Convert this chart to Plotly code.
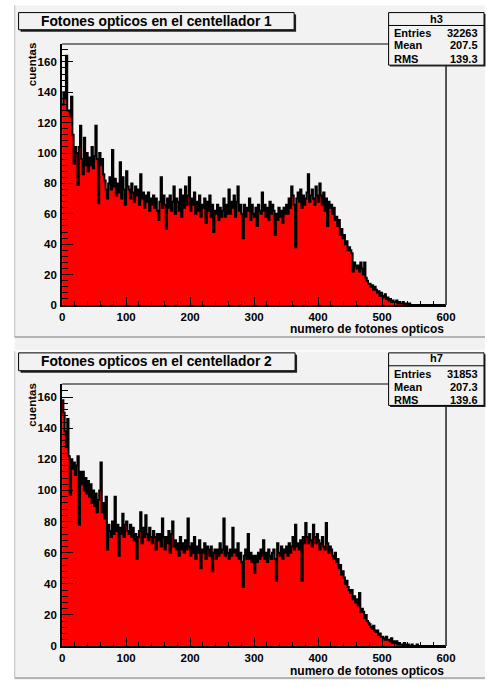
import plotly.graph_objects as go

# ---- histogram contents (2-unit bins from 0 to 600) ----
BIN_WIDTH = 2
X_MIN, X_MAX = 0, 600

h3_counts = [
    132, 140, 136, 164, 128,  128, 124, 137, 112, 93,
    104, 100, 79, 104, 118,   96, 86, 110, 92, 100,
    88, 97, 92, 104, 90,      98, 118, 96, 67, 100,
    92, 96, 86, 82, 76,       70, 80, 84, 76, 102,
    78, 83, 72, 80, 74,       94, 70, 84, 76, 66,
    88, 78, 76, 70, 80,       74, 68, 78, 72, 76,
    66, 86, 70, 74, 64,       72, 68, 74, 62, 70,
    66, 72, 64, 70, 62,       56, 68, 84, 64, 72,
    66, 50, 70, 64, 72,       62, 68, 78, 60, 70,
    68, 62, 76, 58, 72,       64, 78, 66, 72, 84,
    62, 70, 66, 74, 60,       68, 62, 72, 58, 66,
    64, 70, 54, 68, 62,       72, 58, 66, 48, 62,
    60, 66, 56, 64, 58,       62, 70, 58, 66, 60,
    76, 60, 68, 64, 72,       58, 68, 78, 62, 66,
    60, 44, 66, 58, 64,       62, 70, 56, 66, 60,
    58, 64, 52, 66, 62,       60, 74, 62, 66, 58,
    64, 56, 68, 60, 66,       62, 46, 60, 56, 64,
    58, 62, 54, 64, 60,       66, 60, 70, 64, 78,
    72, 66, 38, 70, 74,       68, 76, 64, 72, 66,
    70, 74, 86, 68, 72,       76, 70, 66, 78, 72,
    68, 80, 72, 66, 74,       62, 70, 52, 68, 64,
    66, 60, 64, 56, 58,       52, 56, 46, 50, 44,
    46, 40, 42, 36, 38,       36, 34, 22, 28, 26,
    24, 26, 22, 28, 24,       20, 28, 18, 16, 14,
    14, 12, 13, 10, 12,       10, 8, 9, 6, 8,
    6, 5, 7, 4, 5,            3, 4, 2, 3, 2,
    2, 3, 1, 2, 1,            1, 2, 0, 1, 1,
    0, 1, 0, 0, 0,
]

h7_counts = [
    158, 150, 138, 128, 146,  122, 97, 120, 114, 118,
    110, 116, 122, 78, 112,   104, 112, 100, 108, 98,
    106, 96, 104, 92, 100,    90, 98, 86, 94, 100,
    118, 86, 92, 82, 96,      62, 78, 74, 70, 80,
    72, 96, 74, 78, 58,       76, 72, 85, 70, 78,
    80, 74, 72, 78, 70,       76, 68, 72, 56, 70,
    74, 86, 66, 76, 70,       84, 72, 68, 76, 70,
    66, 74, 70, 62, 72,       68, 72, 64, 82, 70,
    62, 70, 66, 74, 60,       72, 80, 64, 68, 62,
    66, 58, 70, 62, 66,       60, 68, 62, 82, 64,
    58, 66, 60, 70, 56,       64, 60, 68, 50, 62,
    60, 66, 56, 64, 62,       58, 64, 48, 60, 62,
    56, 62, 58, 66, 60,       62, 82, 58, 64, 60,
    56, 62, 58, 76, 60,       62, 58, 66, 56, 60,
    54, 38, 58, 62, 56,       72, 56, 60, 54, 58,
    47, 58, 54, 60, 56,       62, 58, 68, 56, 60,
    54, 62, 58, 56, 60,       62, 56, 42, 66, 60,
    58, 64, 56, 62, 60,       64, 58, 66, 60, 64,
    70, 62, 78, 64, 66,       62, 68, 42, 70, 66,
    79, 70, 66, 72, 68,       64, 78, 70, 66, 72,
    68, 62, 66, 70, 64,       62, 79, 66, 60, 64,
    62, 58, 56, 60, 54,       56, 50, 52, 46, 48,
    44, 40, 42, 38, 36,       34, 36, 30, 32, 28,
    30, 26, 34, 22, 24,       22, 18, 20, 16, 15,
    14, 12, 11, 13, 10,       9, 10, 7, 8, 6,
    6, 5, 4, 6, 4,            4, 3, 5, 2, 3,
    2, 3, 1, 2, 1,            1, 0, 2, 1, 0,
    1, 0, 0, 1, 0,            0, 0, 1, 0, 0,
]

N_BINS = (X_MAX - X_MIN) // BIN_WIDTH
h3_counts = h3_counts + [0] * (N_BINS - len(h3_counts))
h7_counts = h7_counts + [0] * (N_BINS - len(h7_counts))

titles = ["Fotones opticos en el centellador 1", "Fotones opticos en el centellador 2"]
hist_names = ["h3", "h7"]
stat_labels = ["Entries", "Mean", "RMS"]
stat_values = [["32263", "207.5", "139.3"], ["31853", "207.3", "139.6"]]
y_maxima = [171.8, 168.5]
x_title = "numero de fotones opticos"
y_title = "cuentas"

# ---- canvas geometry (pixels) ----
W, H = 495, 686
FONT = "Liberation Sans, Arial, Helvetica, sans-serif"
PAD_BG = "#f2f2f2"


def px(x):
    return x / W


def py(y):
    return 1 - y / H


# per-pad layout: frame box, title box, stats box, text rows
pads = [
    dict(frame=(60.7, 44.3, 455, 307.7), pad=(12, 5, 495, 340),
         tbox=(16, 12.7, 299, 30), sbox=(396, 12.7, 494, 65.7), sep=25.7,
         rows=[19.2, 33.3, 45.9, 59.5], ylab=65.5, xlab=332.0),
    dict(frame=(60.7, 387.3, 455, 651.7), pad=(12, 354, 495, 684),
         tbox=(16, 356, 300, 374), sbox=(396, 356, 494, 409), sep=369,
         rows=[361.5, 377.0, 390.6, 404.0], ylab=409, xlab=676.5),
]

fig = go.Figure()

edges = [X_MIN + i * BIN_WIDTH for i in range(N_BINS + 1)]
for k, counts in enumerate([h3_counts, h7_counts]):
    suffix = "" if k == 0 else str(k + 1)
    fig.add_trace(go.Scatter(
        x=edges, y=counts + [counts[-1]],
        mode="lines", line=dict(shape="hv", color="black", width=2.0),
        fill="tozeroy", fillcolor="#ff0000",
        xaxis="x" + suffix, yaxis="y" + suffix,
        hoverinfo="skip", showlegend=False,
    ))

shapes = []
annotations = []

# canvas background between/around pads
shapes.append(dict(type="rect", xref="paper", yref="paper", layer="below",
                   x0=px(12), x1=px(495), y0=py(686), y1=py(5),
                   fillcolor=PAD_BG, line=dict(width=0)))

layout_axes = {}
for k, p in enumerate(pads):
    fx0, fy0, fx1, fy1 = p["frame"]
    suffix = "" if k == 0 else str(k + 1)
    xa = dict(
        domain=[px(fx0), px(fx1)], range=[X_MIN, X_MAX], anchor="y" + suffix,
        showgrid=False, zeroline=False, showline=True, linecolor="black", linewidth=2,
        ticks="inside", ticklen=8, tickwidth=1, tickcolor="black", dtick=100, tick0=0,
        minor=dict(ticks="inside", ticklen=4, dtick=20, tickcolor="black", showgrid=False),
        tickfont=dict(family=FONT, size=11.5, color="black", weight="bold"),
        fixedrange=True,
    )
    ya = dict(
        domain=[py(fy1), py(fy0)], range=[0, y_maxima[k]], anchor="x" + suffix,
        showgrid=False, zeroline=False, showline=True, linecolor="black", linewidth=2,
        ticks="inside", ticklen=11, tickwidth=1, tickcolor="black", dtick=20, tick0=0,
        minor=dict(ticks="inside", ticklen=6, dtick=4, tickcolor="black", showgrid=False),
        tickfont=dict(family=FONT, size=11.5, color="black", weight="bold"),
        ticklabelstandoff=1,
        fixedrange=True,
    )
    layout_axes["xaxis" + suffix] = xa
    layout_axes["yaxis" + suffix] = ya

    # frame: top and right edges
    shapes.append(dict(type="line", xref="paper", yref="paper",
                       x0=px(fx0), x1=px(fx1), y0=py(fy0), y1=py(fy0),
                       line=dict(color="#555555", width=1.5)))
    shapes.append(dict(type="line", xref="paper", yref="paper",
                       x0=px(fx1), x1=px(fx1), y0=py(fy0), y1=py(fy1),
                       line=dict(color="#444444", width=1.8)))

    # pad edges
    ax0, ay0, ax1, ay1 = p["pad"]
    shapes.append(dict(type="line", xref="paper", yref="paper", layer="below",
                       x0=px(ax0), x1=px(ax0), y0=py(ay0), y1=py(ay1),
                       line=dict(color="#c8c8c8", width=1.2)))
    shapes.append(dict(type="line", xref="paper", yref="paper", layer="below",
                       x0=px(ax0), x1=px(ax1), y0=py(ay1), y1=py(ay1),
                       line=dict(color="#a0a0a0", width=1.5)))
    shapes.append(dict(type="line", xref="paper", yref="paper", layer="below",
                       x0=px(ax0), x1=px(ax1), y0=py(ay0), y1=py(ay0),
                       line=dict(color="#ffffff", width=1.2)))

    # title box with shadow
    tx0, ty0, tx1, ty1 = p["tbox"]
    shapes.append(dict(type="rect", xref="paper", yref="paper",
                       x0=px(tx0 + 2), x1=px(tx1 + 2), y0=py(ty1 + 2), y1=py(ty0 + 2),
                       fillcolor="#222222", line=dict(width=0)))
    shapes.append(dict(type="rect", xref="paper", yref="paper",
                       x0=px(tx0), x1=px(tx1), y0=py(ty1), y1=py(ty0),
                       fillcolor=PAD_BG, line=dict(color="black", width=1)))
    annotations.append(dict(xref="paper", yref="paper", x=px((tx0 + tx1) / 2),
                            y=py((ty0 + ty1) / 2), text=titles[k], showarrow=False,
                            xanchor="center", yanchor="middle",
                            font=dict(family=FONT, size=13.8, color="black", weight="bold")))

    # statistics box with shadow
    sx0, sy0, sx1, sy1 = p["sbox"]
    shapes.append(dict(type="rect", xref="paper", yref="paper",
                       x0=px(sx0 + 1.5), x1=px(sx1 + 1.5), y0=py(sy1 + 1.5), y1=py(sy0 + 1.5),
                       fillcolor="#222222", line=dict(width=0)))
    shapes.append(dict(type="rect", xref="paper", yref="paper",
                       x0=px(sx0), x1=px(sx1), y0=py(sy1), y1=py(sy0),
                       fillcolor=PAD_BG, line=dict(color="black", width=1)))
    shapes.append(dict(type="line", xref="paper", yref="paper",
                       x0=px(sx0), x1=px(sx1), y0=py(p["sep"]), y1=py(p["sep"]),
                       line=dict(color="black", width=1)))
    stat_font = dict(family=FONT, size=11, color="black", weight="bold")
    annotations.append(dict(xref="paper", yref="paper", x=px((sx0 + sx1) / 2),
                            y=py(p["rows"][0]), text=hist_names[k], showarrow=False,
                            xanchor="center", yanchor="middle", font=stat_font))
    for r, (lab, val) in enumerate(zip(stat_labels, stat_values[k])):
        yy = py(p["rows"][r + 1])
        annotations.append(dict(xref="paper", yref="paper", x=px(sx0 + 4), y=yy,
                                text=lab, showarrow=False, xanchor="left",
                                yanchor="middle", font=stat_font))
        annotations.append(dict(xref="paper", yref="paper", x=px(sx1 - 4), y=yy,
                                text=val, showarrow=False, xanchor="right",
                                yanchor="middle", font=stat_font))

    # axis titles
    annotations.append(dict(xref="paper", yref="paper", x=px(30), y=py(p["ylab"]),
                            text=y_title, showarrow=False, textangle=-90,
                            xanchor="center", yanchor="middle",
                            font=dict(family=FONT, size=11.5, color="black", weight="bold")))
    annotations.append(dict(xref="paper", yref="paper", x=px(fx1), y=py(p["xlab"]),
                            text=x_title, showarrow=False,
                            xanchor="right", yanchor="middle",
                            font=dict(family=FONT, size=12, color="black", weight="bold")))

fig.update_layout(
    width=W, height=H,
    margin=dict(l=0, r=0, t=0, b=0),
    paper_bgcolor="white", plot_bgcolor="rgba(0,0,0,0)",
    shapes=shapes, annotations=annotations,
    showlegend=False,
    **layout_axes,
)

fig.write_html("out.html", config=dict(displayModeBar=False))
